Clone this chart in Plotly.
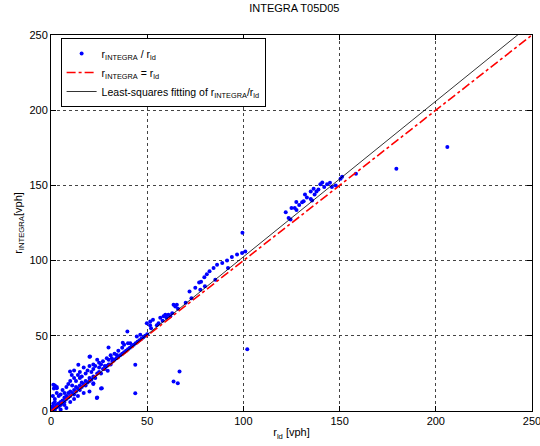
import plotly.graph_objects as go

# r_ld values (vph) and corresponding r_INTEGRA values (vph)
r_ld = [
    0.5, 1, 1.5, 2, 2.5, 3, 0.8, 1.2, 2, 3, 4, 4, 5, 5, 6, 6, 7, 7, 8, 8, 9, 9, 10, 10,
    11, 12, 12, 13, 13, 14, 15, 15, 16, 16, 17, 18, 18, 19, 20, 20, 21, 22, 23, 24, 25,
    26, 27, 28, 29, 30, 31, 32, 33, 34, 35, 36, 37, 38, 39, 40, 41, 42, 43, 44, 45, 46,
    47, 48, 49, 50,
    1, 1.5, 2, 3, 2, 4, 5, 3, 6, 7, 8, 9, 10, 11, 12, 12, 13, 14, 15, 15, 16, 17, 18, 19,
    20, 20, 21, 22, 22, 23, 24, 25, 25, 26, 27, 28, 29, 30, 31, 33, 35, 37, 38, 40, 39.7,
    37.3, 29.9, 1.2, 3, 9.9, 10.8, 14.2, 20.3, 34.2, 31.6, 41.2, 44.6, 46.4,
    7, 8, 5, 10, 12, 14, 17, 20, 22, 24, 26, 29.5, 26.4, 23.8, 7.3, 20.3, 22, 43.8,
    43.8, 63.7, 65.9, 66.8, 102,
    49.8, 51.6, 53, 55.9, 56.8, 58.5, 59.4, 61, 62, 63.7, 64.6, 65.4, 51.5,
    52, 55, 58, 60, 63, 66, 70, 73, 77.6, 80, 85.4, 92,
    72, 75, 77, 78, 79.7, 81, 82.4, 84.5, 86.3, 89, 91.5, 94, 96.7, 99.3, 101, 99.5,
    124.5, 122, 123.5, 125, 126.7, 127.6, 127.5, 130.5, 131.3, 132, 135, 135.7, 135,
    136.5, 138, 139, 140, 141, 143.5, 145, 150.5, 151.3, 158.5, 179.5, 206,
    129, 133, 137, 142, 146, 148,
]
r_integra = [
    0.5, 1, 2, 1, 3, 2.5, 3, 5, 6, 4, 3, 5, 4, 6, 5, 7, 6, 9, 8, 10, 9, 12, 10, 13,
    12, 11, 14, 13, 16, 15, 14, 17, 16, 19, 18, 17, 20, 19, 20, 22, 21, 23, 22, 25, 26,
    25, 28, 28, 30, 31, 31, 33, 34, 35, 36, 37, 38, 39, 40, 41, 42, 43, 44, 45, 46, 47,
    48, 49, 50, 51,
    10, 15, 17, 12, 8, 10, 11, 16, 14, 12, 16, 18, 20, 17, 22, 27, 20, 24, 22, 26, 23, 29,
    25, 27, 30, 36, 26, 31, 28, 30, 34, 29, 32, 31, 33, 30, 35, 34, 37, 38, 40, 42, 44, 45,
    52.9, 45.3, 42.2, 17.5, 15.2, 26.2, 24, 30.7, 36.2, 37.3, 35.1, 45.1, 49.6, 50.7,
    4, 2, 1, 6, 8, 10, 12, 13, 18, 9, 15, 26.7, 15.2, 8.6, 8.6, 20.7, 18.4, 30.7,
    11.8, 19.6, 18.4, 26.2, 41,
    58.4, 59.5, 60.7, 58.4, 62, 63, 64, 64, 63, 70.7, 69.5, 70.7, 57,
    55, 57, 60, 62, 65, 68, 72, 75, 80.7, 83, 87.3, 95,
    79.5, 82, 85.5, 86, 89, 91, 93, 95, 97.3, 98.4, 100, 102.4, 104, 105, 106, 118.6,
    127.3, 132.2, 128.4, 135, 135, 133.7, 139, 138.8, 139.5, 144, 141, 140, 146,
    147.8, 146, 147.3, 150.7, 152, 150.7, 151.8, 154.5, 155.8, 157.8, 161, 175.5,
    137, 142, 144, 149, 149, 150,
]

# reference line r_INTEGRA = r_ld and least-squares fit
ref_x = [0, 250]
fit_slope = 1.035
fit_intercept = -1.0

x_ticks = [0, 50, 100, 150, 200, 250]
y_ticks = [0, 50, 100, 150, 200, 250]

fit_y = [fit_slope * v + fit_intercept for v in ref_x]

FONT = "Liberation Sans, Arial"

fig = go.Figure()
fig.add_trace(go.Scatter(
    x=r_ld, y=r_integra, mode="markers",
    marker=dict(color="#0000ff", size=4, symbol="circle"),
    name="r<sub>INTEGRA</sub> / r<sub>ld</sub>", legendgroup="g1",
))
fig.add_trace(go.Scatter(
    x=ref_x, y=ref_x, mode="lines",
    line=dict(color="#ff0000", width=1.6, dash="dashdot"),
    name="r<sub>INTEGRA</sub> = r<sub>ld</sub>", legendgroup="g2",
))
fig.add_trace(go.Scatter(
    x=ref_x, y=fit_y, mode="lines",
    line=dict(color="#000000", width=0.8),
    name="Least-squares fitting of r<sub>INTEGRA</sub>/r<sub>ld</sub>", legendgroup="g3",
))

axis_common = dict(
    showgrid=True, gridcolor="#444444", griddash="dot", gridwidth=1,
    zeroline=False, showline=True, linecolor="#000000", linewidth=1,
    mirror="ticks", ticks="inside", ticklen=5, tickcolor="#000000",
    tickfont=dict(family=FONT, size=11, color="#000000"),
    automargin=False, ticklabeloverflow="allow",
)

fig.update_layout(
    width=540, height=446,
    margin=dict(l=51, r=8, t=35, b=35),
    paper_bgcolor="white", plot_bgcolor="white",
    title=dict(text="INTEGRA T05D05", x=0.545, xanchor="center", y=0.99, yanchor="top",
               font=dict(family=FONT, size=11, color="#000000")),
    font=dict(family=FONT, size=11, color="#000000"),
    showlegend=True,
    legend=dict(x=0.02, y=0.992, xanchor="left", yanchor="top",
                bgcolor="white", bordercolor="#000000", borderwidth=1,
                font=dict(family=FONT, size=10.5, color="#000000"),
                tracegroupgap=0, itemwidth=30),
)
fig.update_xaxes(range=[0, 250], tickvals=x_ticks, **axis_common,
                 title=dict(text="r<sub>ld</sub> [vph]", standoff=2,
                            font=dict(family=FONT, size=11)))
fig.update_yaxes(range=[0, 250], tickvals=y_ticks, **axis_common,
                 title=dict(text="r<sub>INTEGRA</sub>[vph]", standoff=4,
                            font=dict(family=FONT, size=11)))

fig.write_html("out.html", config={"displayModeBar": False},
               post_script="document.body.style.margin='0';document.body.style.overflow='hidden';")
